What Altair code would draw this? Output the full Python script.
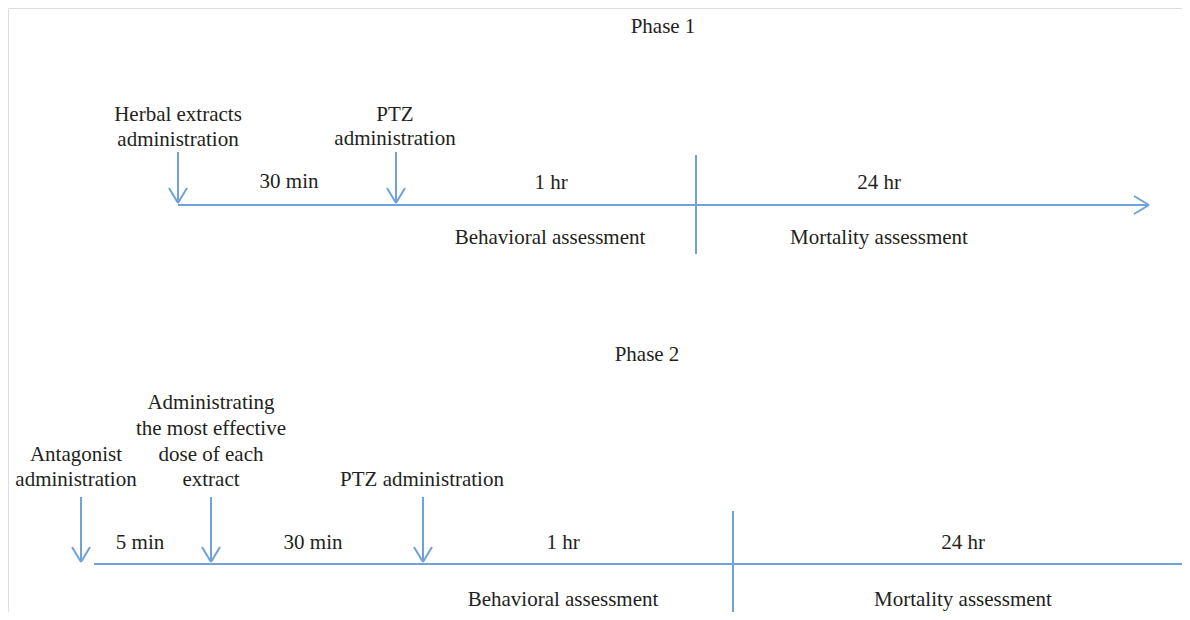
import altair as alt
import pandas as pd

# ---------------- data (positions, in page pixels) ----------------
# phase titles
phase_titles = ["Phase 1", "Phase 2"]
phase_title_x = [663, 647]
phase_title_y = [27, 355]

# main time axis of each phase
axis_phase = ["Phase 1", "Phase 2"]
axis_y = [205, 564]
axis_x_start = [178, 94]
axis_x_end = [1149, 1198]

# divider between behavioural and mortality assessment
divider_x = [696, 733]
divider_top = [155, 511]
divider_bottom = [254, 622]

# downward event arrows
event_x = [178, 396, 81, 211, 423]
event_top = [152, 152, 497, 497, 497]
event_tip = [203, 203, 562, 562, 562]

# text labels
label_text = [
    "Herbal extracts", "administration",
    "PTZ", "administration",
    "30 min", "1 hr", "24 hr",
    "Behavioral assessment", "Mortality assessment",
    "Antagonist", "administration",
    "Administrating", "the most effective", "dose of each", "extract",
    "PTZ administration",
    "5 min", "30 min", "1 hr", "24 hr",
    "Behavioral assessment", "Mortality assessment",
]
label_x = [
    178, 178,
    395, 395,
    289, 551, 879,
    550, 879,
    76, 76,
    211, 211, 211, 211,
    422,
    140, 313, 563, 963,
    563, 963,
]
label_y = [
    115, 140,
    115, 139,
    182, 183, 183,
    238, 238,
    455, 480,
    403, 429, 455, 480,
    480,
    543, 543, 543, 543,
    600, 600,
]

# ---------------- tables ----------------
BLUE = "#6fa1da"
INK = "#231f20"
FONT = "Liberation Serif"

titles = pd.DataFrame({"text": phase_titles, "x": phase_title_x, "y": phase_title_y})
labels = pd.DataFrame({"text": label_text, "x": label_x, "y": label_y})

segs = []
for xs_, xe, y in zip(axis_x_start, axis_x_end, axis_y):
    segs.append((xs_, y, xe, y))
    # arrow head (chevron) at the end of the axis
    segs.append((xe - 15, y - 9, xe, y))
    segs.append((xe - 15, y + 9, xe, y))
for x, t, b in zip(divider_x, divider_top, divider_bottom):
    segs.append((x, t, x, b))
for x, t, tip in zip(event_x, event_top, event_tip):
    segs.append((x, t, x, tip))
    segs.append((x - 9, tip - 15, x, tip))
    segs.append((x + 9, tip - 15, x, tip))
lines = pd.DataFrame(segs, columns=["x", "y", "x2", "y2"])

W, H = 1174, 604
xs = alt.Scale(domain=[8, 8 + W], nice=False, zero=False)
ys = alt.Scale(domain=[8, 8 + H], nice=False, zero=False, reverse=True)

rules = alt.Chart(lines).mark_rule(color=BLUE, strokeWidth=2).encode(
    x=alt.X("x:Q", scale=xs, axis=None),
    y=alt.Y("y:Q", scale=ys, axis=None),
    x2="x2:Q",
    y2="y2:Q",
)

text_kw = dict(font=FONT, fontSize=21, color=INK, align="center", baseline="middle")

title_marks = alt.Chart(titles).mark_text(**text_kw).encode(
    x=alt.X("x:Q", scale=xs, axis=None),
    y=alt.Y("y:Q", scale=ys, axis=None),
    text="text:N",
)
label_marks = alt.Chart(labels).mark_text(**text_kw).encode(
    x=alt.X("x:Q", scale=xs, axis=None),
    y=alt.Y("y:Q", scale=ys, axis=None),
    text="text:N",
)

chart = (
    alt.layer(rules, title_marks, label_marks)
    .properties(width=W, height=H, padding=0,
                autosize=alt.AutoSizeParams(type="none"))
    .configure_view(stroke="transparent", strokeWidth=0, strokeOpacity=0)
    .configure(background="white")
)

chart.save("out.html", embed_options={"renderer": "svg", "actions": False})
